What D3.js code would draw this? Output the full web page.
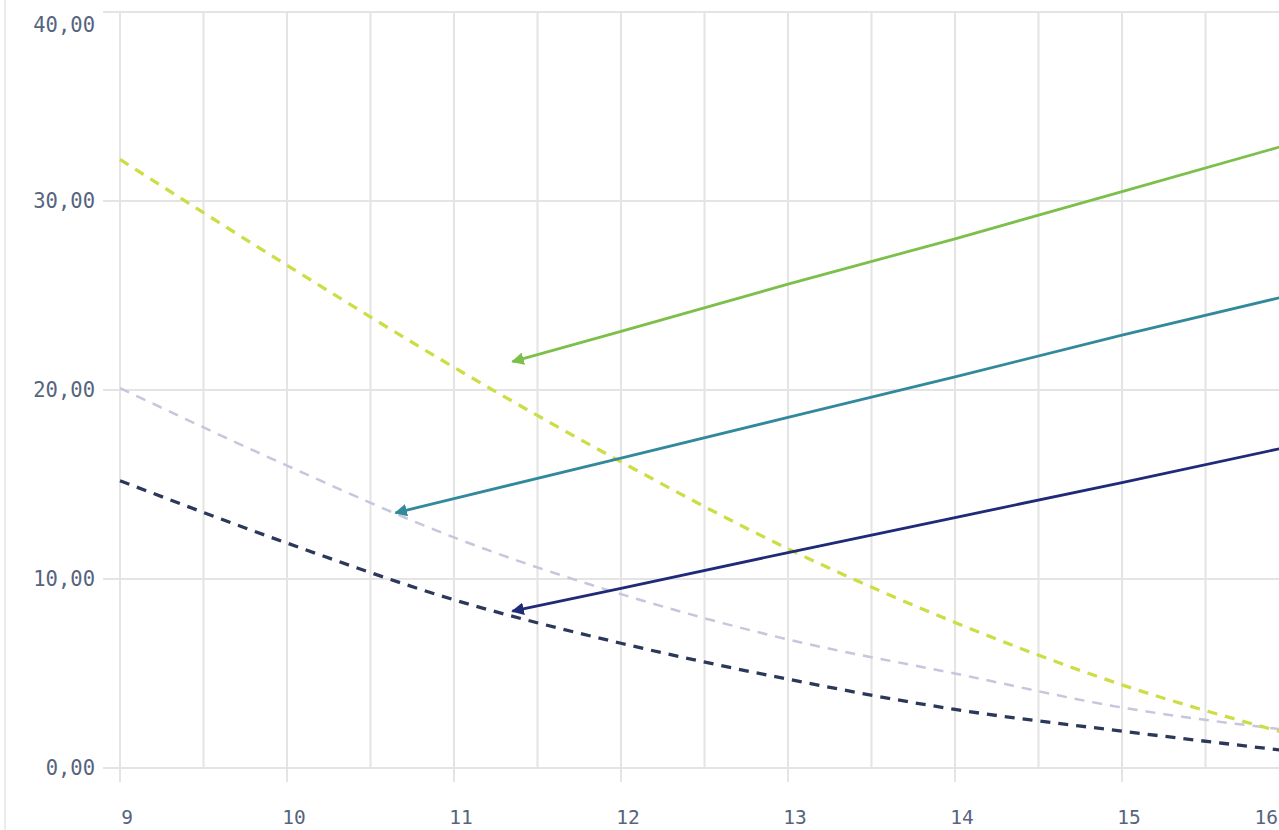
<!DOCTYPE html>
<html><head><meta charset="utf-8">
<script src="https://cdn.jsdelivr.net/npm/d3@7"></script>
<style>
html,body{margin:0;padding:0;background:#fff;overflow:hidden}
svg{display:block}
.lbl{font-family:"DejaVu Sans Mono",monospace;fill:#56647e}
</style></head>
<body>
<svg id="c" width="1279" height="830"></svg>
<script>
// ---- data ----
const xTicks = [9, 10, 11, 12, 13, 14, 15, 16];
const xGrid = [9, 9.5, 10, 10.5, 11, 11.5, 12, 12.5, 13, 13.5, 14, 14.5, 15, 15.5, 16];
const yTicks = [0, 10, 20, 30, 40];

const curveX = [9, 10, 11, 12, 13, 14, 15, 16];
const yellowDashed = [32.2, 26.6, 21.2, 16.2, 11.6, 7.7, 4.4, 1.8];
const lavenderDashed = [20.1, 16.0, 12.2, 9.2, 6.8, 5.0, 3.2, 2.0];
const navyDashed = [15.2, 11.9, 8.9, 6.6, 4.7, 3.1, 1.95, 0.9];

const greenX = [11.35, 12, 13, 14, 15, 16];
const greenY = [21.5, 23.1, 25.6, 28.0, 30.5, 33.0];
const tealX = [10.65, 11, 12, 13, 14, 15, 16];
const tealY = [13.5, 14.25, 16.4, 18.55, 20.7, 22.9, 25.0];
const navyX = [11.35, 12, 13, 14, 15, 16];
const navyY = [8.3, 9.5, 11.4, 13.25, 15.1, 17.0];

// ---- chart ----
const svg = d3.select("#c");
const x = d3.scaleLinear().domain([9, 16]).range([120, 1289]);
const y = d3.scaleLinear().domain([0, 40]).range([768, 12]);
const fmt = v => d3.format(".2f")(v).replace(".", ",");

// frame line on left
svg.append("line").attr("x1", 5).attr("x2", 5).attr("y1", 0).attr("y2", 830)
  .attr("stroke", "#ececec").attr("stroke-width", 2);

const grid = svg.append("g").attr("stroke", "#e4e4e4").attr("stroke-width", 2);
grid.selectAll(".v").data(xGrid).join("line")
  .attr("x1", d => x(d)).attr("x2", d => x(d))
  .attr("y1", y(40)).attr("y2", d => Number.isInteger(d) ? y(0) + 14 : y(0));
grid.selectAll(".h").data(yTicks).join("line")
  .attr("x1", 103).attr("x2", 1279)
  .attr("y1", d => y(d)).attr("y2", d => y(d));

// y labels
svg.append("g").selectAll("text").data(yTicks).join("text")
  .attr("class", "lbl").attr("font-size", 20.5).attr("text-anchor", "end")
  .attr("x", 95).attr("y", d => y(d) + (d === 40 ? 13 : 0))
  .attr("dominant-baseline", "central")
  .text(fmt);
// x labels
svg.append("g").selectAll("text").data(xTicks).join("text")
  .attr("class", "lbl").attr("font-size", 19.5)
  .attr("text-anchor", (d, i) => i === xTicks.length - 1 ? "end" : "middle")
  .attr("x", (d, i) => i === xTicks.length - 1 ? 1278 : x(d) + 7)
  .attr("y", 817).attr("dominant-baseline", "central")
  .text(d => d);

// dashed curves
const curve = d3.line().x(d => x(d[0])).y(d => y(d[1])).curve(d3.curveMonotoneX);
const dashed = [
  {vals: lavenderDashed, color: "#c6c6dc", w: 2.5},
  {vals: yellowDashed, color: "#cddd45", w: 3.3},
  {vals: navyDashed, color: "#2b3859", w: 3.3}
];
dashed.forEach(s => {
  svg.append("path").datum(curveX.map((v, i) => [v, s.vals[i]]))
    .attr("d", curve).attr("fill", "none")
    .attr("stroke", s.color).attr("stroke-width", s.w)
    .attr("stroke-dasharray", "10,8");
});

// solid arrows
const defs = svg.append("defs");
const solids = [
  {xs: greenX, ys: greenY, color: "#7cbf4a", id: "ag"},
  {xs: tealX, ys: tealY, color: "#33899c", id: "at"},
  {xs: navyX, ys: navyY, color: "#1f2a78", id: "an"}
];
const straight = d3.line().x(d => x(d[0])).y(d => y(d[1]));
solids.forEach(s => {
  defs.append("marker").attr("id", s.id).attr("viewBox", "0 0 10 10")
    .attr("refX", 9).attr("refY", 5).attr("markerWidth", 4.5).attr("markerHeight", 4.5)
    .attr("orient", "auto-start-reverse")
    .append("path").attr("d", "M0,0L10,5L0,10Z").attr("fill", s.color);
  svg.append("path").datum(s.xs.map((v, i) => [v, s.ys[i]]))
    .attr("d", straight).attr("fill", "none")
    .attr("stroke", s.color).attr("stroke-width", 2.8)
    .attr("marker-start", `url(#${s.id})`);
});
</script>
</body></html>
